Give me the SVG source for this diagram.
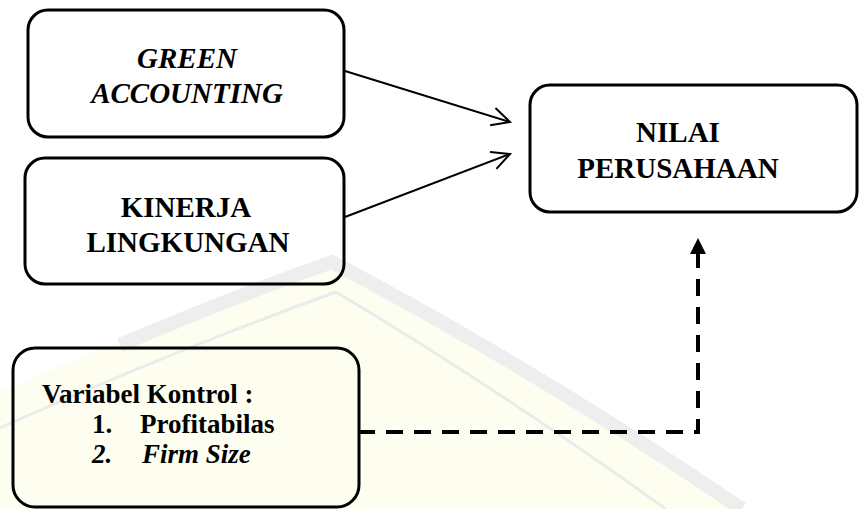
<svg xmlns="http://www.w3.org/2000/svg" width="861" height="509" viewBox="0 0 861 509">
  <style>
    .box { fill: none; stroke: #000; stroke-width: 3; }
    .conn { fill: none; stroke: #000; stroke-width: 2; }
    .dash { fill: none; stroke: #000; stroke-width: 4; stroke-dasharray: 17 11; }
    text { font-family: "Liberation Serif", "Times New Roman", "DejaVu Serif", serif; font-weight: bold; font-size: 29px; fill: #000; }
    .small { font-size: 27px; }
  </style>
  <defs>
    <marker id="open" markerUnits="userSpaceOnUse" markerWidth="22" markerHeight="22" refX="18" refY="9" orient="auto" overflow="visible">
      <path d="M0,0 L18,9 L0,18" fill="none" stroke="#000" stroke-width="2"/>
    </marker>
    <marker id="solid" markerUnits="userSpaceOnUse" markerWidth="18" markerHeight="18" refX="8" refY="8" orient="auto" overflow="visible">
      <path d="M0,0 L16,8 L0,16 Z" fill="#000"/>
    </marker>
  </defs>

  <rect width="861" height="509" fill="#fff"/>

  <g id="watermark">
    <path d="M0,392 Q170,318 332,260 Q540,370 742,509 L0,509 Z" fill="#fdfdf0"/>
    <path d="M120,345 Q230,298 332,262 Q540,372 742,509" fill="none" stroke="#eeeeee" stroke-width="14"/>
    <path d="M0,428 Q170,352 336,292 Q500,390 666,509" fill="none" stroke="#ebebeb" stroke-width="3"/>
  </g>

  <g id="connectors">
    <line class="conn" x1="345" y1="71" x2="510" y2="122" marker-end="url(#open)"/>
    <line class="conn" x1="345" y1="217" x2="510" y2="154" marker-end="url(#open)"/>
    <path class="dash" d="M358,432 L698,432 L698,246" marker-end="url(#solid)"/>
  </g>

  <g id="green-accounting">
    <rect class="box" x="28" y="10" width="316" height="127" rx="20"/>
    <text font-style="italic" x="187" y="68" text-anchor="middle">GREEN</text>
    <text font-style="italic" x="187" y="103" text-anchor="middle">ACCOUNTING</text>
  </g>

  <g id="kinerja-lingkungan">
    <rect class="box" x="25" y="158" width="319" height="126" rx="20"/>
    <text x="186" y="217" text-anchor="middle">KINERJA</text>
    <text x="188" y="252" text-anchor="middle">LINGKUNGAN</text>
  </g>

  <g id="nilai-perusahaan">
    <rect class="box" x="530" y="85" width="327" height="127" rx="20"/>
    <text x="678" y="142" text-anchor="middle">NILAI</text>
    <text x="678" y="178" text-anchor="middle">PERUSAHAAN</text>
  </g>

  <g id="variabel-kontrol">
    <rect class="box" x="13" y="348" width="346" height="159" rx="22"/>
    <text class="small" x="42" y="403">Variabel Kontrol :</text>
    <text class="small" x="92" y="433">1.</text>
    <text class="small" x="140" y="433">Profitabilas</text>
    <text class="small" font-style="italic" x="92" y="463">2.</text>
    <text class="small" font-style="italic" x="142" y="463">Firm Size</text>
  </g>
</svg>
